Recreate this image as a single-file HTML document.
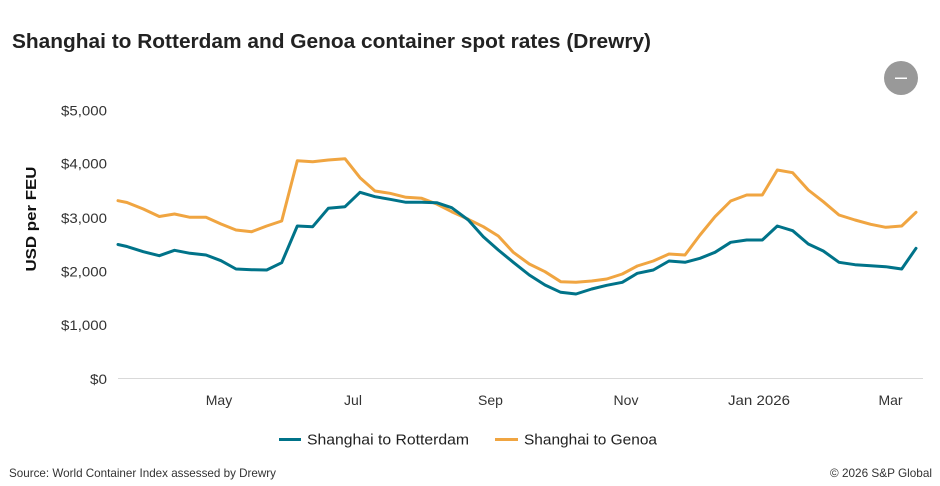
<!DOCTYPE html>
<html>
<head>
<meta charset="utf-8">
<style>
  html, body { margin: 0; padding: 0; background: #ffffff; }
  body { width: 940px; height: 486px; overflow: hidden; }
  svg { display: block; font-family: "Liberation Sans", "DejaVu Sans", sans-serif; }
</style>
</head>
<body>
<svg width="940" height="486" viewBox="0 0 940 486" xmlns="http://www.w3.org/2000/svg">
  <rect x="0" y="0" width="940" height="486" fill="#ffffff"/>

  <!-- Title -->
  <text x="12" y="48" font-size="20" font-weight="bold" fill="#222222" textLength="639" lengthAdjust="spacingAndGlyphs">Shanghai to Rotterdam and Genoa container spot rates (Drewry)</text>

  <!-- Menu button -->
  <circle cx="901" cy="78" r="17" fill="#999999"/>
  <rect x="895" y="77.5" width="12" height="1.5" fill="#ffffff"/>

  <!-- Y axis title -->
  <text transform="translate(36,219) rotate(-90)" text-anchor="middle" font-size="15" font-weight="bold" fill="#111111" textLength="105" lengthAdjust="spacingAndGlyphs">USD per FEU</text>

  <!-- Y axis labels -->
  <g font-size="14" fill="#333333" text-anchor="end">
    <text x="107" y="115.5" textLength="46" lengthAdjust="spacingAndGlyphs">$5,000</text>
    <text x="107" y="168.5" textLength="46" lengthAdjust="spacingAndGlyphs">$4,000</text>
    <text x="107" y="223" textLength="46" lengthAdjust="spacingAndGlyphs">$3,000</text>
    <text x="107" y="276.5" textLength="46" lengthAdjust="spacingAndGlyphs">$2,000</text>
    <text x="107" y="330" textLength="46" lengthAdjust="spacingAndGlyphs">$1,000</text>
    <text x="107" y="384" textLength="17" lengthAdjust="spacingAndGlyphs">$0</text>
  </g>

  <!-- Baseline -->
  <line x1="118" y1="378.5" x2="923" y2="378.5" stroke="#d9d9d9" stroke-width="1"/>

  <!-- X axis labels -->
  <g font-size="14" fill="#333333" text-anchor="middle">
    <text x="219" y="405">May</text>
    <text x="353" y="405">Jul</text>
    <text x="490.5" y="405">Sep</text>
    <text x="626" y="405">Nov</text>
    <text x="759" y="405" textLength="62" lengthAdjust="spacingAndGlyphs">Jan 2026</text>
    <text x="890.5" y="405">Mar</text>
  </g>

  <!-- Series: Shanghai to Genoa -->
  <polyline fill="none" stroke="#f0a541" stroke-width="3" stroke-linejoin="round" stroke-linecap="round"
    points="118,200.7 127,202.5 143.3,209 159.3,216.5 174.5,214 190,217.3 206,217.3 221,224 236,230 251.7,231.7 266.7,226 281.7,221 297.3,160.7 312.7,161.7 328.3,160 345,158.7 360,177.7 375,191 390,193.3 406,197.3 421.7,198.3 436.7,204 451.7,211.7 468.3,219.3 483.3,226.7 498.3,236 513.3,252.3 529.3,264 545,271.7 560.7,281.7 576,282.3 591.7,281 606.7,279 622.3,274 637.3,266 653.3,261 669,254 685,255 700,235 715,216.7 730.7,201 746.7,195 762.3,195 777.3,170 792.7,172.7 808.3,190 823.3,201.7 839,215 855,220 870.7,224.3 885.7,227.3 901.7,226 916,212.3"/>

  <!-- Series: Shanghai to Rotterdam -->
  <polyline fill="none" stroke="#007389" stroke-width="3" stroke-linejoin="round" stroke-linecap="round"
    points="118,244.5 127,246.5 143.3,251.7 159.3,255.7 174.5,250.3 190,253.3 206,255 221,260.7 236,269 251.7,269.7 266.7,270 281.7,262.7 297.3,226 312.7,226.7 328.3,208.3 345,206.7 360,192.3 375,196.7 390,199.3 406,202.3 421.7,202.3 436.7,202.7 451.7,207.7 468.3,220 483.3,236.7 498.3,250 513.3,262.3 529.3,275 545,285 560.7,292.3 576,294 591.7,289 606.7,285.3 622.3,282.3 637.3,273.3 653.3,270 669,261 685,262.3 700,258.3 715,252.3 730.7,242.3 746.7,240 762.3,240 777.3,226 792.7,230.7 808.3,244 823.3,251 839,262.3 855,264.7 870.7,265.7 885.7,266.7 901.7,269 916,248.3"/>

  <!-- Legend -->
  <line x1="279" y1="439.5" x2="301" y2="439.5" stroke="#007389" stroke-width="3"/>
  <text x="307" y="444.5" font-size="15" fill="#222222" textLength="162" lengthAdjust="spacingAndGlyphs">Shanghai to Rotterdam</text>
  <line x1="495" y1="439.5" x2="518" y2="439.5" stroke="#f0a541" stroke-width="3"/>
  <text x="524" y="444.5" font-size="15" fill="#222222" textLength="133" lengthAdjust="spacingAndGlyphs">Shanghai to Genoa</text>

  <!-- Footer -->
  <text x="9" y="477" font-size="12" fill="#333333" textLength="267" lengthAdjust="spacingAndGlyphs">Source: World Container Index assessed by Drewry</text>
  <text x="932" y="477" font-size="12" fill="#333333" text-anchor="end" textLength="102" lengthAdjust="spacingAndGlyphs">© 2026 S&amp;P Global</text>
</svg>
</body>
</html>
